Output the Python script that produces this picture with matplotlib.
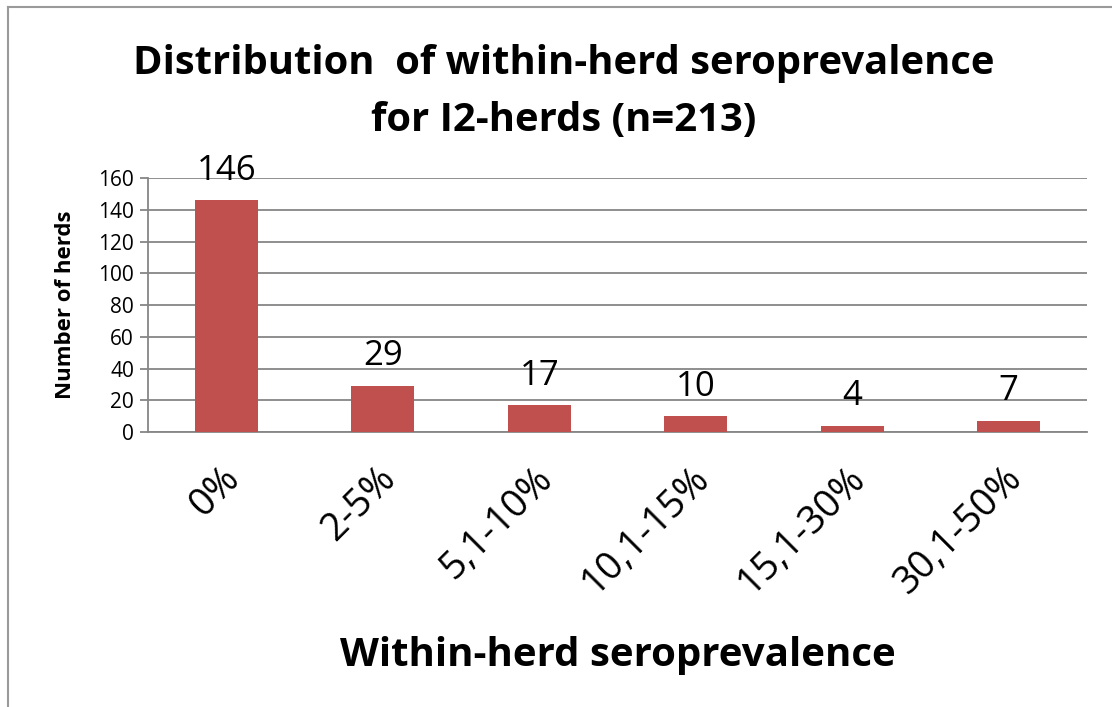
import matplotlib.pyplot as plt
import matplotlib.transforms as mtransforms
from matplotlib.lines import Line2D

plt.rcParams['font.family'] = ['Open Sans', 'DejaVu Sans']

# data
categories = ['0%', '2-5%', '5,1-10%', '10,1-15%', '15,1-30%', '30,1-50%']
herds = [146, 29, 17, 10, 4, 7]
yticks = [0, 20, 40, 60, 80, 100, 120, 140, 160]

bar_color = '#C0504D'
grid_color = '#868686'

fig = plt.figure(figsize=(11.12, 7.07), dpi=100)
ax = fig.add_axes([0.1331, 0.389, 0.8444, 0.359])

x = list(range(len(categories)))
bars = ax.bar(x, herds, width=0.4, color=bar_color, zorder=3)

# data labels above bars
for xi, v in zip(x, herds):
    ax.annotate(str(v), (xi, v), xytext=(0, 9), textcoords='offset points',
                ha='center', va='bottom', fontsize=25, color='black')

ax.set_xlim(-0.5, 5.5)
ax.set_ylim(0, 160)
ax.set_yticks(yticks)
ax.yaxis.grid(True, color=grid_color, linewidth=1.3, zorder=0)
ax.set_axisbelow(True)

for s in ['top', 'right']:
    ax.spines[s].set_visible(False)
for s in ['left', 'bottom']:
    ax.spines[s].set_color(grid_color)
    ax.spines[s].set_linewidth(1.3)

ax.tick_params(axis='y', direction='out', length=6, width=1.3, color=grid_color,
               labelsize=15, pad=4)
ax.tick_params(axis='x', length=0, pad=20)
ax.set_xticks(x)
ax.set_xticklabels(categories, rotation=45, ha='right', rotation_mode='anchor',
                   fontsize=27.5)
shift = mtransforms.ScaledTranslation(-6 / 100, 0, fig.dpi_scale_trans)
for lbl in ax.get_xticklabels():
    lbl.set_transform(lbl.get_transform() + shift)

ax.set_ylabel('Number of herds', fontsize=16, fontweight='bold', labelpad=16)
ax.set_xlabel('Within-herd seroprevalence', fontsize=29, fontweight='bold',
              labelpad=24)

fig.text(0.507, 0.87, 'Distribution  of within-herd seroprevalence\nfor I2-herds (n=213)',
         ha='center', va='center', fontsize=28.8, fontweight='bold',
         linespacing=1.6)

# chart border (top and left only visible in the picture)
fig.add_artist(Line2D([0.0072, 1.0], [0.9894, 0.9894], color='#9a9a9a', linewidth=1.5))
fig.add_artist(Line2D([0.0072, 0.0072], [0.0, 0.9894], color='#9a9a9a', linewidth=1.5))

fig.savefig('out.png', dpi=100)
